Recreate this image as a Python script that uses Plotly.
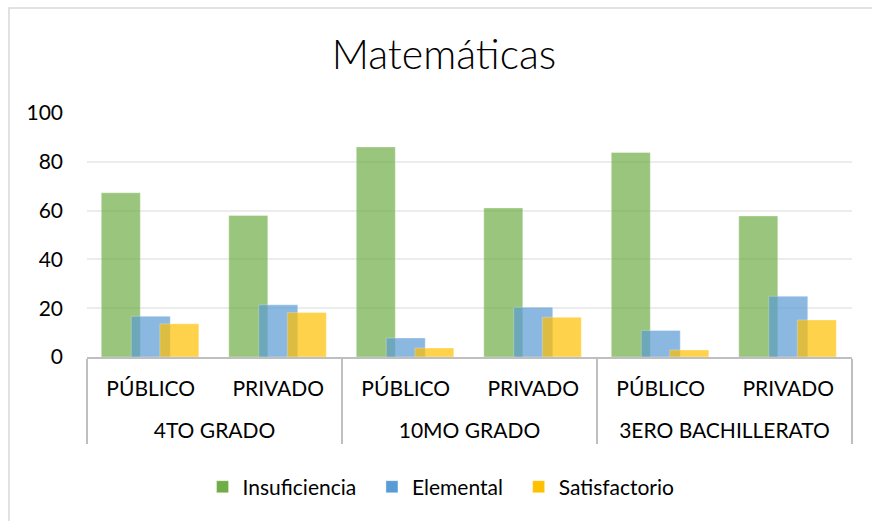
import plotly.graph_objects as go

grados = ["4TO GRADO", "4TO GRADO", "10MO GRADO", "10MO GRADO",
          "3ERO BACHILLERATO", "3ERO BACHILLERATO"]
sector = ["PÚBLICO", "PRIVADO", "PÚBLICO", "PRIVADO", "PÚBLICO", "PRIVADO"]

insuficiencia = [67.3, 58.0, 86.1, 61.1, 83.8, 57.8]
elemental = [16.7, 21.4, 7.8, 20.4, 10.9, 24.9]
satisfactorio = [13.6, 18.2, 3.7, 16.3, 2.9, 15.2]

FONT = "Lato"
# blank line under the inner label pushes the outer row down, like Excel
x = [grados, [s + "<br> " for s in sector]]

fig = go.Figure()
series = [
    ("Insuficiencia", insuficiencia, "#70AD47", -0.388),
    ("Elemental", elemental, "#5B9BD5", -0.153),
    ("Satisfactorio", satisfactorio, "#FFC000", 0.071),
]
for name, vals, color, off in series:
    fig.add_trace(go.Bar(
        x=x, y=vals, name=name + "\u00a0\u00a0",
        width=0.306, offset=off,
        marker=dict(color=color, opacity=0.7,
                    line=dict(color="rgba(255,255,255,0.35)", width=1)),
    ))

fig.update_layout(
    barmode="overlay",
    width=872, height=521,
    margin=dict(l=87, r=20, t=113, b=164),
    paper_bgcolor="white",
    plot_bgcolor="white",
    font=dict(family=FONT, size=21, color="#000000"),
    title=dict(text="Matemáticas", x=444 / 872, xanchor="center",
               y=1 - 55 / 521, yanchor="middle",
               font=dict(family=FONT, size=41, color="#000000", weight=300)),
    legend=dict(orientation="h", x=0.47, xanchor="center",
                y=-0.533, yanchor="middle",
                font=dict(family=FONT, size=21), itemwidth=30),
    showlegend=True,
)
fig.update_xaxes(
    type="multicategory",
    showline=True, linecolor="#bfbfbf", linewidth=2,
    showdividers=True, dividercolor="#bfbfbf", dividerwidth=2,
    tickfont=dict(family=FONT, size=21),
    showgrid=False, ticks="",
    ticklabelstandoff=12,
)
fig.update_yaxes(
    range=[0, 100], dtick=20,
    showgrid=True, gridcolor="#ececec", gridwidth=1.5,
    zeroline=False, showline=False,
    tickfont=dict(family=FONT, size=21),
    ticklabelstandoff=23,
)
# chart area border (Excel style)
fig.add_shape(type="rect", xref="paper", yref="paper",
              x0=(9 - 87) / 765, x1=1.2, y0=-1.0, y1=(357 - 8) / 244,
              line=dict(color="#d9d9d9", width=1.5), layer="below")

fig.write_html("out.html", config={"displayModeBar": False},
               post_script="document.body.style.margin='0';")
